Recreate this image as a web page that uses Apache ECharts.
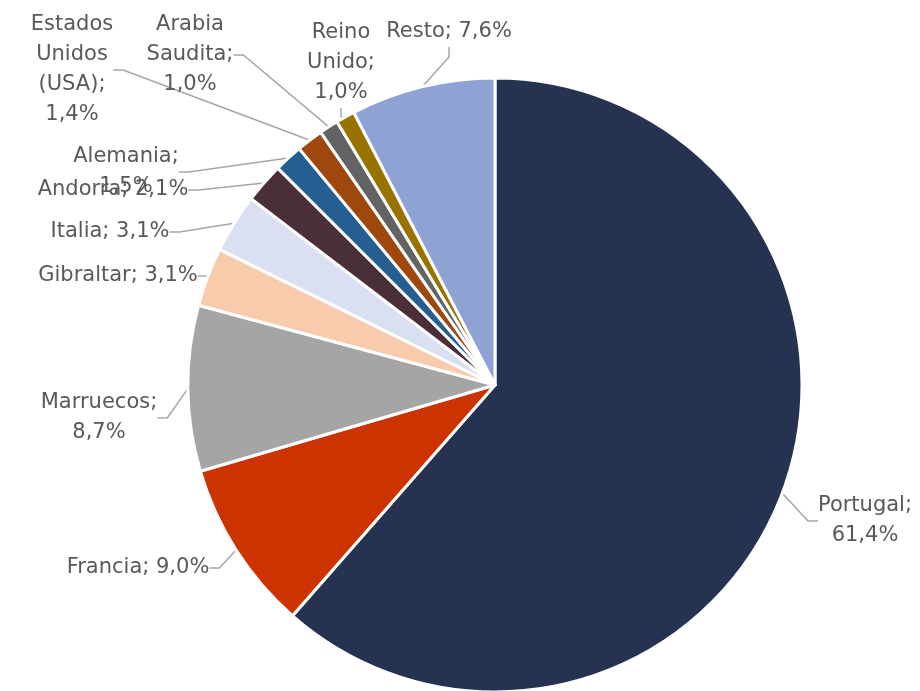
<!DOCTYPE html>
<html>
<head>
<meta charset="utf-8">
<script src="https://cdn.jsdelivr.net/npm/echarts@6/dist/echarts.min.js"></script>
<style>html,body{margin:0;padding:0;background:#fff}#c{width:920px;height:691px}</style>
</head>
<body>
<div id="c"></div>
<script>
var categories = ['Portugal', 'Francia', 'Marruecos', 'Gibraltar', 'Italia', 'Andorra', 'Alemania', 'Estados Unidos (USA)', 'Arabia Saudita', 'Reino Unido', 'Resto'];
var values = [61.4, 9.0, 8.7, 3.1, 3.1, 2.1, 1.5, 1.4, 1.0, 1.0, 7.6];
var labelNames = ['Portugal;\n', 'Francia; ', 'Marruecos;\n', 'Gibraltar; ', 'Italia; ', 'Andorra; ', 'Alemania;\n', 'Estados\nUnidos\n(USA);\n', 'Arabia\nSaudita;\n', 'Reino\nUnido;\n', 'Resto; '];
var colors = ['#253250', '#CC3300', '#A5A5A5', '#F8CBAD', '#DAE0F2', '#4A2E38', '#255E91', '#9E480E', '#636363', '#997300', '#8FA2D4'];
var labelPos = [[865, 521], [138, 568], [99, 418], [118, 276], [110, 232], [113, 190], [126, 172], [72, 70], [190, 55], [341, 63], [449, 32]];

var chart = echarts.init(document.getElementById('c'), null, {renderer: 'canvas'});
var data = categories.map(function (c, i) {
  return {name: c, value: values[i], itemStyle: {color: colors[i]}};
});
chart.setOption({
  animation: false,
  backgroundColor: '#ffffff',
  series: [{
    type: 'pie',
    center: [495, 385],
    radius: [0, 307],
    startAngle: 90,
    clockwise: true,
    data: data,
    itemStyle: {borderColor: '#ffffff', borderWidth: 3},
    label: {
      show: true,
      fontFamily: 'DejaVu Sans',
      fontSize: 21,
      color: '#595959',
      lineHeight: 30,
      align: 'center',
      formatter: function (p) {
        return labelNames[p.dataIndex] + values[p.dataIndex].toFixed(1).replace('.', ',') + '%';
      }
    },
    labelLine: {show: true, lineStyle: {color: '#A6A6A6', width: 1.5}, length: 10, length2: 10},
    labelLayout: function (p) {
      var pos = labelPos[p.dataIndex];
      return {x: pos[0], y: pos[1], align: 'center', verticalAlign: 'middle', hideOverlap: false};
    }
  }]
});
</script>
</body>
</html>
